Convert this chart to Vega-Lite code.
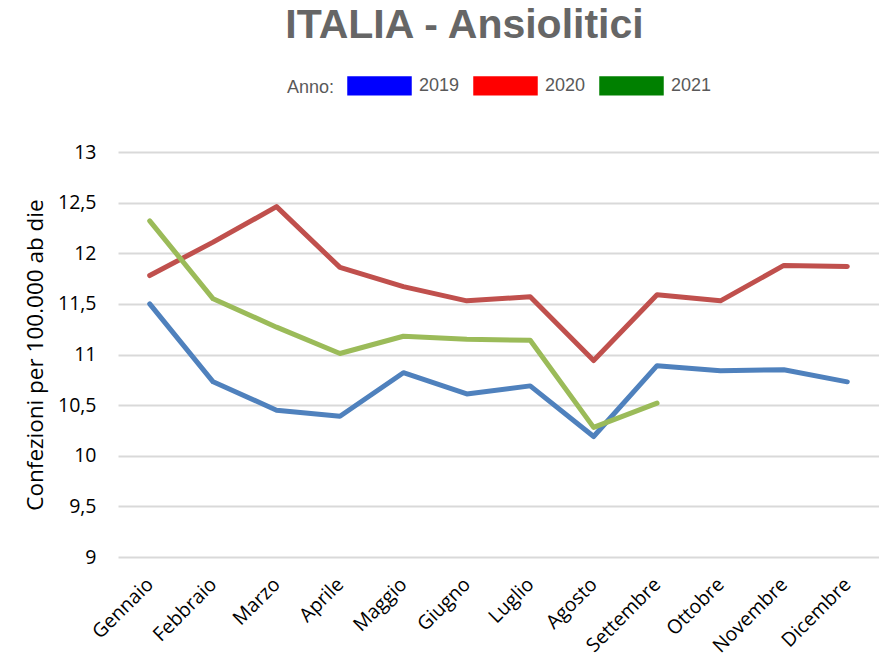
{
  "$schema": "https://vega.github.io/schema/vega-lite/v6.json",
  "width": 761,
  "height": 405,
  "autosize": {"type": "none"},
  "padding": {"left": 118, "top": 152, "right": 0, "bottom": 100},
  "background": "white",
  "config": {
    "locale": {"number": {"decimal": ",", "thousands": ".", "grouping": [3], "currency": ["€", ""]}},
    "view": {"stroke": null}
  },
  "title": {
    "text": "ITALIA - Ansiolitici",
    "font": "Liberation Sans",
    "fontSize": 41,
    "fontWeight": "bold",
    "color": "#666666",
    "anchor": "middle",
    "frame": "group",
    "dx": -34,
    "dy": 41,
    "baseline": "alphabetic",
    "offset": 15
  },
  "data": {
    "values": [
      {"mese": "Gennaio", "anno": "2019", "valore": 11.50},
      {"mese": "Febbraio", "anno": "2019", "valore": 10.73},
      {"mese": "Marzo", "anno": "2019", "valore": 10.45},
      {"mese": "Aprile", "anno": "2019", "valore": 10.39},
      {"mese": "Maggio", "anno": "2019", "valore": 10.82},
      {"mese": "Giugno", "anno": "2019", "valore": 10.61},
      {"mese": "Luglio", "anno": "2019", "valore": 10.69},
      {"mese": "Agosto", "anno": "2019", "valore": 10.19},
      {"mese": "Settembre", "anno": "2019", "valore": 10.89},
      {"mese": "Ottobre", "anno": "2019", "valore": 10.84},
      {"mese": "Novembre", "anno": "2019", "valore": 10.85},
      {"mese": "Dicembre", "anno": "2019", "valore": 10.73},
      {"mese": "Gennaio", "anno": "2020", "valore": 11.78},
      {"mese": "Febbraio", "anno": "2020", "valore": 12.11},
      {"mese": "Marzo", "anno": "2020", "valore": 12.46},
      {"mese": "Aprile", "anno": "2020", "valore": 11.86},
      {"mese": "Maggio", "anno": "2020", "valore": 11.67},
      {"mese": "Giugno", "anno": "2020", "valore": 11.53},
      {"mese": "Luglio", "anno": "2020", "valore": 11.57},
      {"mese": "Agosto", "anno": "2020", "valore": 10.94},
      {"mese": "Settembre", "anno": "2020", "valore": 11.59},
      {"mese": "Ottobre", "anno": "2020", "valore": 11.53},
      {"mese": "Novembre", "anno": "2020", "valore": 11.88},
      {"mese": "Dicembre", "anno": "2020", "valore": 11.87},
      {"mese": "Gennaio", "anno": "2021", "valore": 12.32},
      {"mese": "Febbraio", "anno": "2021", "valore": 11.55},
      {"mese": "Marzo", "anno": "2021", "valore": 11.27},
      {"mese": "Aprile", "anno": "2021", "valore": 11.01},
      {"mese": "Maggio", "anno": "2021", "valore": 11.18},
      {"mese": "Giugno", "anno": "2021", "valore": 11.15},
      {"mese": "Luglio", "anno": "2021", "valore": 11.14},
      {"mese": "Agosto", "anno": "2021", "valore": 10.28},
      {"mese": "Settembre", "anno": "2021", "valore": 10.52}
    ]
  },
  "mark": {"type": "line", "strokeWidth": 5, "strokeCap": "round", "strokeJoin": "round"},
  "encoding": {
    "x": {
      "field": "mese",
      "type": "ordinal",
      "sort": ["Gennaio", "Febbraio", "Marzo", "Aprile", "Maggio", "Giugno", "Luglio", "Agosto", "Settembre", "Ottobre", "Novembre", "Dicembre"],
      "scale": {"type": "point", "padding": 0.5},
      "axis": {
        "title": null,
        "domain": false,
        "ticks": false,
        "grid": false,
        "labelAngle": -45,
        "labelAlign": "right",
        "labelBaseline": "middle",
        "labelPadding": 24,
        "labelFont": "Open Sans",
        "labelFontSize": 19.5,
        "labelColor": "#000000"
      }
    },
    "y": {
      "field": "valore",
      "type": "quantitative",
      "scale": {"domain": [9, 13], "nice": false, "zero": false},
      "axis": {
        "values": [9, 9.5, 10, 10.5, 11, 11.5, 12, 12.5, 13],
        "format": "~f",
        "title": "Confezioni per 100.000 ab die",
        "titleFont": "Open Sans",
        "titleFontSize": 22.5,
        "titleFontWeight": "normal",
        "titleColor": "#000000",
        "titlePadding": 10,
        "domain": false,
        "ticks": false,
        "gridColor": "#d9d9d9",
        "gridWidth": 2,
        "labelFont": "Open Sans",
        "labelFontSize": 19.5,
        "labelColor": "#000000",
        "labelPadding": 22
      }
    },
    "color": {
      "field": "anno",
      "type": "nominal",
      "scale": {"domain": ["2019", "2020", "2021"], "range": ["#4F81BD", "#C0504D", "#9BBB59"]},
      "legend": {
        "orient": "none",
        "legendX": 169,
        "legendY": -99,
        "direction": "horizontal",
        "padding": 0,
        "title": "Anno:",
        "titleOrient": "left",
        "titleAnchor": "middle",
        "titleBaseline": "middle",
        "titleFont": "Liberation Sans",
        "titleFontSize": 18,
        "titleFontWeight": "normal",
        "titleColor": "#595959",
        "titlePadding": 12,
        "labelFont": "Liberation Sans",
        "labelFontSize": 18,
        "labelColor": "#595959",
        "labelOffset": 7,
        "columnPadding": 13,
        "symbolType": "M-1,-0.3H1V0.3H-1Z",
        "symbolSize": 4160,
        "symbolStrokeWidth": 0,
        "symbolOpacity": 1,
        "encode": {
          "title": {"update": {"dy": {"value": 14}}},
          "symbols": {
            "update": {
              "fill": {"signal": "datum.value === '2019' ? '#0000FF' : datum.value === '2020' ? '#FF0000' : '#008000'"},
              "stroke": {"value": "transparent"}
            }
          }
        }
      }
    }
  }
}
